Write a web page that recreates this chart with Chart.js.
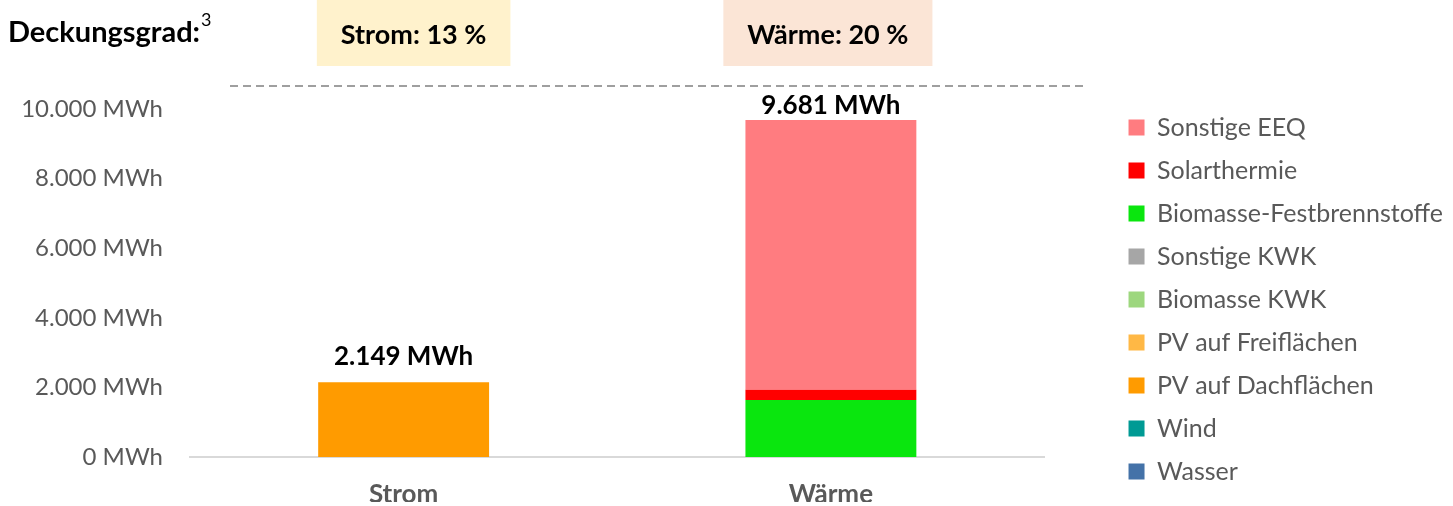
<!DOCTYPE html>
<html lang="de">
<head>
<meta charset="utf-8">
<title>Deckungsgrad</title>
<script src="https://cdn.jsdelivr.net/npm/chart.js@4.4.1/dist/chart.umd.min.js"></script>
<style>
  html, body { margin: 0; padding: 0; background: #fff; }
  #wrap { width: 1453px; height: 506px; }
</style>
</head>
<body>
<div id="wrap"><canvas id="myChart" width="1453" height="506"></canvas></div>
<script>
// categories and header texts
const categories = ['Strom', 'Wärme'];
const coverage = ['Strom: 13 %', 'Wärme: 20 %'];
const coverageColors = ['#fff2cc', '#fbe5d6'];
const coverageShift = [10, -3]; // box offset from category centre, px

// MWh per source (stack order bottom -> top)
const wasser       = [0, 0];
const wind         = [0, 0];
const pvDach       = [2149, 0];
const pvFrei       = [0, 0];
const biomasseKwk  = [0, 0];
const sonstigeKwk  = [0, 0];
const biomasseFest = [0, 1640];
const solarthermie = [0, 290];
const sonstigeEeq  = [0, 7751];

const yMax = 10000;
const yStep = 2000;

const FONT = 'Lato';
const GREY = '#595959';

function fmt(v) {
  return String(Math.round(v)).replace(/\B(?=(\d{3})+(?!\d))/g, '.');
}

const DASH_Y = 86;

// header (Deckungsgrad boxes, dashed line) and stack totals
const extras = {
  id: 'extras',
  afterDatasetsDraw(chart) {
    const { ctx, chartArea, scales: { x, y } } = chart;
    ctx.save();

    // title
    ctx.fillStyle = '#000';
    ctx.textAlign = 'left';
    ctx.textBaseline = 'alphabetic';
    ctx.font = 'bold 29px ' + FONT;
    ctx.fillText('Deckungsgrad:', 8, 42);
    const w = ctx.measureText('Deckungsgrad:').width;
    ctx.font = '18px ' + FONT;
    ctx.fillText('3', 8 + w + 1, 26);

    // coverage boxes
    ctx.font = 'bold 27px ' + FONT;
    ctx.textAlign = 'center';
    ctx.textBaseline = 'middle';
    categories.forEach((c, i) => {
      const cx = x.getPixelForValue(i) + coverageShift[i];
      const tw = ctx.measureText(coverage[i]).width;
      const bw = tw + 48;
      ctx.fillStyle = coverageColors[i];
      ctx.fillRect(cx - bw / 2, 0, bw, 66);
      ctx.fillStyle = '#000';
      ctx.fillText(coverage[i], cx, 35);
    });

    // dashed line
    ctx.strokeStyle = '#808080';
    ctx.lineWidth = 1.3;
    ctx.setLineDash([8, 5]);
    ctx.beginPath();
    ctx.moveTo(chartArea.left + 40, DASH_Y);
    ctx.lineTo(chartArea.right + 40, DASH_Y);
    ctx.stroke();
    ctx.setLineDash([]);

    // totals above bars
    ctx.font = 'bold 26px ' + FONT;
    ctx.fillStyle = '#000';
    categories.forEach((c, i) => {
      const total = chart.data.datasets.reduce((s, ds) => s + ds.data[i], 0);
      const top = y.getPixelForValue(total);
      const ty = Math.max(top - 26, DASH_Y + 20);
      ctx.fillText(fmt(total) + ' MWh', x.getPixelForValue(i), ty);
    });
    ctx.restore();
  }
};

const ctx = document.getElementById('myChart').getContext('2d');

const chart = new Chart(ctx, {
  type: 'bar',
  data: {
    labels: categories,
    datasets: [
      { label: 'Wasser', data: wasser, backgroundColor: '#4472a8' },
      { label: 'Wind', data: wind, backgroundColor: '#009a94' },
      { label: 'PV auf Dachflächen', data: pvDach, backgroundColor: '#ff9b00' },
      { label: 'PV auf Freiflächen', data: pvFrei, backgroundColor: '#ffb845' },
      { label: 'Biomasse KWK', data: biomasseKwk, backgroundColor: '#9dd77e' },
      { label: 'Sonstige KWK', data: sonstigeKwk, backgroundColor: '#a6a6a6' },
      { label: 'Biomasse-Festbrennstoffe', data: biomasseFest, backgroundColor: '#0ae60e' },
      { label: 'Solarthermie', data: solarthermie, backgroundColor: '#ff0000' },
      { label: 'Sonstige EEQ', data: sonstigeEeq, backgroundColor: '#ff7c80' }
    ]
  },
  options: {
    responsive: false,
    animation: false,
    layout: { padding: { top: 0, bottom: 4, left: 0, right: 0 } },
    datasets: { bar: { barPercentage: 0.4, categoryPercentage: 1.0 } },
    scales: {
      x: {
        stacked: true,
        grid: { display: false, drawTicks: false },
        border: { color: '#d9d9d9', width: 2 },
        ticks: { color: GREY, font: { family: FONT, size: 26, weight: 'bold' }, padding: 22 },
        afterFit: (s) => { s.height = 45; }
      },
      // empty axis: keeps the header area above the plot free
      head: {
        position: 'top',
        grid: { display: false, drawTicks: false },
        border: { display: false },
        ticks: { display: false },
        afterFit: (s) => { s.height = 109; }
      },
      y: {
        stacked: true,
        min: 0,
        max: yMax,
        grid: { display: false, drawTicks: false },
        border: { display: false },
        ticks: {
          stepSize: yStep,
          color: GREY,
          padding: 27,
          font: { family: FONT, size: 24 },
          callback: (v) => fmt(v) + ' MWh'
        },
        afterFit: (s) => { s.width = 190; }
      },
      // hidden axis: gap between plot and legend
      gap: {
        position: 'right',
        display: false,
        afterFit: (s) => { s.width = 66; }
      }
    },
    plugins: {
      legend: {
        position: 'right',
        align: 'end',
        reverse: true,
        labels: {
          boxWidth: 16,
          boxHeight: 16,
          padding: 18,
          color: GREY,
          font: { family: FONT, size: 25 }
        }
      },
      tooltip: { enabled: false }
    }
  },
  plugins: [extras]
});
</script>
</body>
</html>
